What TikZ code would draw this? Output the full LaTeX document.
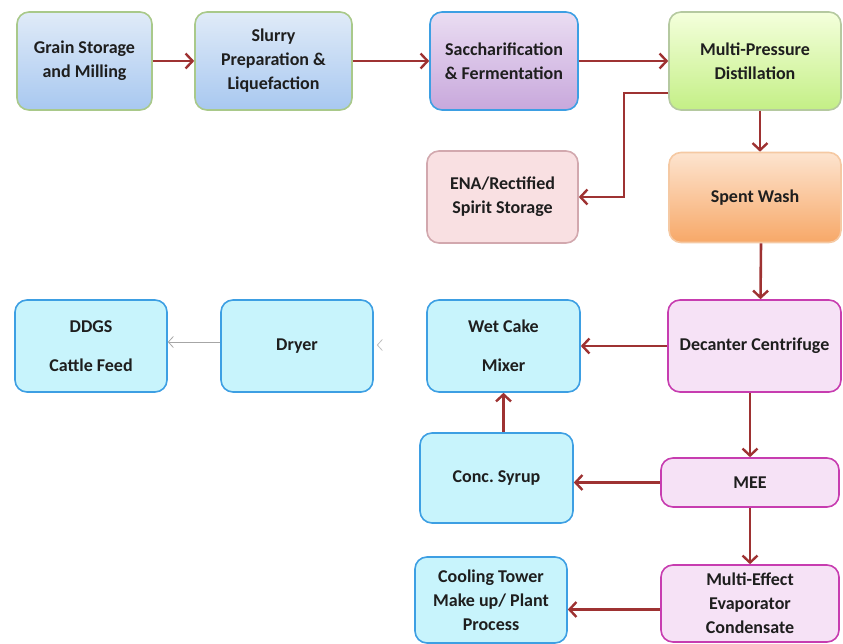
\documentclass[tikz,border=0pt]{standalone}
\usepackage{fontspec}
\setmainfont{Carlito}
\usetikzlibrary{arrows.meta}
\definecolor{arrred}{HTML}{9E3232}
\definecolor{bluebd}{HTML}{3D9FE3}
\definecolor{cyanfill}{HTML}{C8F4FC}
\definecolor{magbd}{HTML}{C73DB0}
\definecolor{magfill}{HTML}{F6E2F6}
\definecolor{txt}{HTML}{1E1E1E}
\definecolor{bluetop}{HTML}{E0EBF8}
\definecolor{bluebot}{HTML}{A8C8F0}
\definecolor{greenbd}{HTML}{A9C98A}
\definecolor{violtop}{HTML}{EADDF2}
\definecolor{violbot}{HTML}{C8A8DC}
\definecolor{limetop}{HTML}{F4FFDC}
\definecolor{limebot}{HTML}{C4EF86}
\definecolor{limebd}{HTML}{B5C9A0}
\definecolor{pinkfill}{HTML}{F9E0E2}
\definecolor{pinkbd}{HTML}{D2A8AE}
\definecolor{orgtop}{HTML}{FDE4CF}
\definecolor{orgbot}{HTML}{F7A868}
\definecolor{orgbd}{HTML}{F5C9A3}
\tikzset{
  box/.style={rectangle, rounded corners=12pt, line width=1.6pt, align=center,
    font=\fontsize{18}{24}\selectfont\bfseries, text=txt, inner sep=2pt},
  bluebox/.style={box, draw=bluebd, fill=cyanfill},
  widebluebox/.style={bluebox, font=\fontsize{18}{39}\selectfont\bfseries},
  magbox/.style={box, draw=magbd, fill=magfill},
  topbox/.style={box, draw=greenbd, top color=bluetop, bottom color=bluebot},
  flow/.style={draw=arrred, line width=2.6pt, -{Straight Barb[length=7pt,width=15pt,line width=2.4pt]}},
  thinflow/.style={draw=gray!70, line width=0.8pt, -{Straight Barb[length=5pt,width=11pt,line width=0.8pt]}},
}
\begin{document}
\begin{tikzpicture}[x=1pt,y=-1pt]
\useasboundingbox (0,0) rectangle (843,644);
\node[topbox, minimum width=135pt, minimum height=98pt] (grain) at (84.5,61) {Grain Storage\\and Milling};
\node[topbox, minimum width=157pt, minimum height=98pt] (slurry) at (273.5,61) {Slurry\\Preparation \&\\Liquefaction};
\node[box, draw=bluebd, top color=violtop, bottom color=violbot, minimum width=148pt, minimum height=98pt] (sacch) at (504,61) {Saccharification\\\& Fermentation};
\node[box, draw=limebd, top color=limetop, bottom color=limebot, minimum width=172pt, minimum height=98pt] (mpd) at (755,61) {Multi-Pressure\\Distillation};
\node[box, draw=pinkbd, fill=pinkfill, minimum width=151pt, minimum height=92pt] (ena) at (502.5,197) {ENA/Rectified\\Spirit Storage};
\node[box, draw=orgbd, top color=orgtop, bottom color=orgbot, minimum width=172pt, minimum height=90pt] (spent) at (755,197.5) {Spent Wash};
\node[magbox, minimum width=173pt, minimum height=92pt] (dec) at (754.5,346) {Decanter Centrifuge};
\node[widebluebox, minimum width=153pt, minimum height=92pt] (wet) at (503.5,346) {Wet Cake\\Mixer};
\node[bluebox, minimum width=152pt, minimum height=92pt] (dryer) at (297,346) {Dryer};
\node[widebluebox, minimum width=152pt, minimum height=92pt] (ddgs) at (91,346) {DDGS\\Cattle Feed};
\node[bluebox, minimum width=153pt, minimum height=90pt] (syrup) at (496.5,478) {Conc.\ Syrup};
\node[magbox, minimum width=178pt, minimum height=49pt] (mee) at (750,482.5) {MEE};
\node[magbox, minimum width=178pt, minimum height=77pt] (meec) at (750,603.5) {Multi-Effect\\Evaporator\\Condensate};
\node[bluebox, minimum width=152pt, minimum height=86pt] (cool) at (491,600) {Cooling Tower\\Make up/ Plant\\Process};
\coordinate (bend) at (624,93);
\draw[flow] (grain.east) -- (slurry.west);
\draw[flow] (slurry.east) -- (sacch.west);
\draw[flow] (sacch.east) -- (mpd.west);
\draw[flow] ([xshift=5pt]mpd.south) -- ([xshift=5pt]spent.north);
\draw[flow] (mpd.west |- bend) -- (bend) |- (ena.east);
\draw[flow] ([xshift=6pt]spent.south) -- ([xshift=6pt]dec.north);
\draw[flow] (dec.west) -- (wet.east);
\draw[flow] (dec.south -| mee.north) -- (mee.north);
\draw[flow] (mee.west) -- (mee.west -| syrup.east);
\draw[flow] (wet.south |- syrup.north) -- (wet.south);
\draw[flow] (mee.south) -- (meec.north);
\draw[flow] ([yshift=-6pt]meec.west) -- ([yshift=-6pt]meec.west -| cool.east);
\draw[thinflow] ([yshift=4pt]dryer.west) -- ([yshift=4pt]dryer.west -| ddgs.east);
\draw[draw=white, line width=0.8pt, -{Straight Barb[length=5pt,width=11pt,line width=0.8pt,color=gray!50]}] ([yshift=1pt]wet.west) -- ([xshift=3pt,yshift=1pt]dryer.east);
\end{tikzpicture}
\end{document}
